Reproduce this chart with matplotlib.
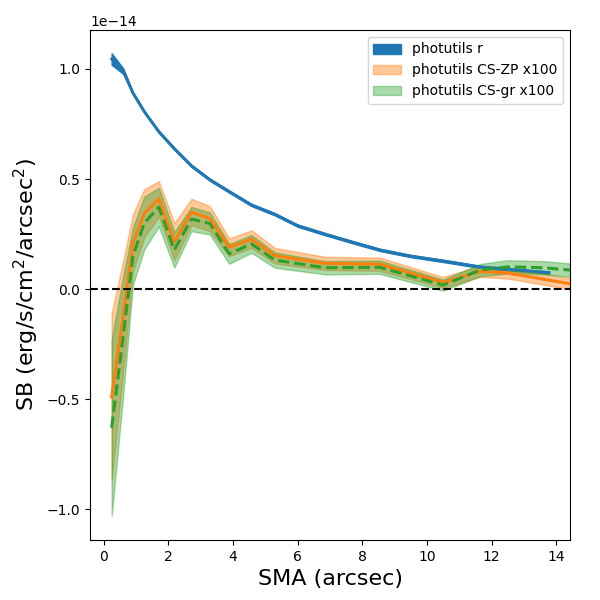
import matplotlib
matplotlib.use("Agg")
import matplotlib.pyplot as plt
import numpy as np

# SMA grid (arcsec)
sma_r = np.array([0.24, 0.60, 0.90, 1.25, 1.70, 2.18, 2.71, 3.28, 3.88, 4.57, 5.29, 6.0,
                  6.84, 7.7, 8.54, 9.5, 10.5, 11.64, 12.5, 13.78])
sb_r = np.array([1.045, 0.99, 0.89, 0.806, 0.715, 0.638, 0.56, 0.497, 0.443, 0.382, 0.34, 0.288,
                 0.25, 0.213, 0.178, 0.15, 0.128, 0.101, 0.09, 0.075])
err_r = np.array([0.026, 0.012, 0.006, 0.005, 0.005, 0.005, 0.005, 0.005, 0.005, 0.005, 0.005, 0.005,
                  0.005, 0.005, 0.005, 0.005, 0.005, 0.005, 0.005, 0.005])

sma_cs = np.array([0.24, 0.60, 0.90, 1.25, 1.70, 2.18, 2.71, 3.28, 3.88, 4.57, 5.29,
                   6.84, 8.54, 10.5, 11.64, 12.5, 13.6, 14.6])
sb_zp = np.array([-0.49, -0.12, 0.21, 0.344, 0.41, 0.215, 0.35, 0.32, 0.19, 0.227, 0.152,
                  0.117, 0.113, 0.03, 0.08, 0.073, 0.045, 0.02])
err_zp = np.array([0.38, 0.25, 0.13, 0.11, 0.08, 0.085, 0.06, 0.057, 0.04, 0.04, 0.035,
                   0.03, 0.03, 0.025, 0.025, 0.025, 0.025, 0.025])
sb_gr = np.array([-0.63, -0.21, 0.15, 0.30, 0.372, 0.178, 0.318, 0.298, 0.16, 0.205, 0.132,
                  0.097, 0.099, 0.018, 0.086, 0.101, 0.097, 0.084])
err_gr = np.array([0.40, 0.27, 0.13, 0.12, 0.088, 0.08, 0.055, 0.05, 0.045, 0.04, 0.035,
                   0.03, 0.03, 0.025, 0.028, 0.03, 0.03, 0.03])

scale = 1e-14

fig = plt.figure(figsize=(6, 6), dpi=100)
ax = fig.add_axes([0.15, 0.10, 0.80, 0.85])

ax.fill_between(sma_r, (sb_r - err_r) * scale, (sb_r + err_r) * scale, color='C0',
                label='photutils r')
ax.plot(sma_r, sb_r * scale, color='C0', lw=2)

ax.fill_between(sma_cs, (sb_zp - err_zp) * scale, (sb_zp + err_zp) * scale, color='C1',
                alpha=0.42, label='photutils CS-ZP x100')
ax.plot(sma_cs, sb_zp * scale, color='C1', lw=2.2)

ax.fill_between(sma_cs, (sb_gr - err_gr) * scale, (sb_gr + err_gr) * scale, color='C2',
                alpha=0.4, label='photutils CS-gr x100')
ax.plot(sma_cs, sb_gr * scale, color='C2', lw=2.2, ls='--')

ax.axhline(0, color='k', ls='--', lw=1.5)

ax.set_xlim(-0.43, 14.43)
ax.set_ylim(-1.14e-14, 1.177e-14)
ax.set_yticks(np.array([-1.0, -0.5, 0.0, 0.5, 1.0]) * scale)
ax.set_xlabel('SMA (arcsec)', fontsize=16)
ax.set_ylabel('SB (erg/s/cm$^2$/arcsec$^2$)', fontsize=16)
ax.legend(loc='upper right')

fig.savefig('out.png', dpi=100)
